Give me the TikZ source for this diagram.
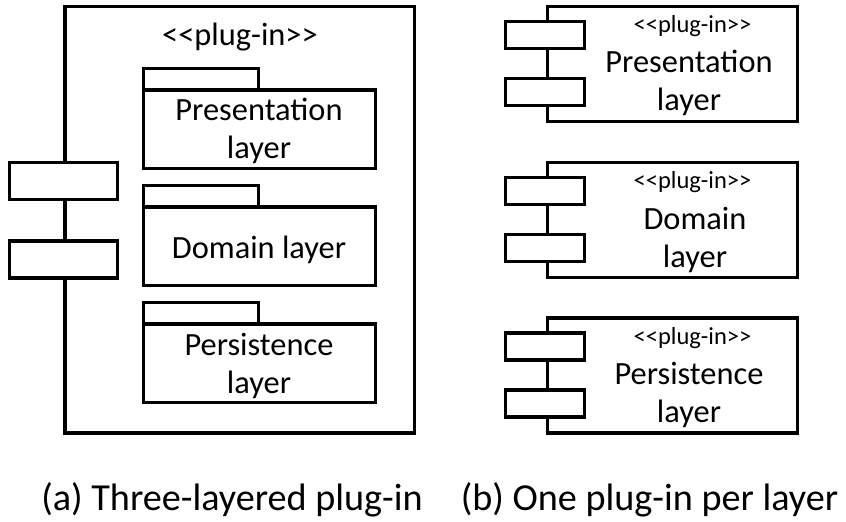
\documentclass[tikz,border=0pt]{standalone}
\usepackage{fontspec}
\setmainfont{Carlito}
\begin{document}
\begin{tikzpicture}[x=1pt,y=-1pt,
  outline/.style={draw=black, line width=3.3pt, line join=miter, inner sep=0pt, outer sep=0pt, rectangle, fill=white},
  port/.style={outline},
  pkgtab/.style={outline},
  pkgbody/.style={outline},
  lbl/.style={font=\fontsize{32.4}{38}\selectfont, align=center, inner sep=0pt, anchor=base},
  stereo/.style={font=\fontsize{32.4}{38}\selectfont, inner sep=0pt, anchor=base},
  smallstereo/.style={font=\fontsize{24.5}{29}\selectfont, inner sep=0pt, anchor=base},
  caption/.style={font=\fontsize{38.2}{44}\selectfont, inner sep=0pt, anchor=base}]
\useasboundingbox (0,0) rectangle (846,522);

% ---------- (a) one plug-in holding three layer packages ----------
\node[outline, minimum width=349.5pt, minimum height=426.5pt] (big) at (239.75,219.75) {};
\node[port, minimum width=108pt, minimum height=37pt] (bigp1) at (63.5,181) {};
\node[port, minimum width=108pt, minimum height=37pt] (bigp2) at (63.5,259.5) {};
\node[stereo] (bigst) at (240,45) {<{}<plug-in>{}>};

% packages: tab + body
\node[pkgtab, minimum width=115pt, minimum height=21.5pt] (ptab) at (201,79.25) {};
\node[pkgbody, minimum width=232pt, minimum height=78.5pt] (pbody) at (259.5,129.25) {};
\node[pkgtab, minimum width=115pt, minimum height=21.5pt] (dtab) at (201,196.25) {};
\node[pkgbody, minimum width=232pt, minimum height=78.5pt] (dbody) at (259.5,246.25) {};
\node[pkgtab, minimum width=115pt, minimum height=21.5pt] (stab) at (201,313.25) {};
\node[pkgbody, minimum width=232pt, minimum height=78.5pt] (sbody) at (259.5,363.25) {};

% two-line labels are placed by the baseline of their last line
\node[lbl] (plbl) at (259,158) {Presentation\\layer};
\node[lbl] (dlbl) at (259,258) {Domain layer};
\node[lbl] (slbl) at (259,393) {Persistence\\layer};

% ---------- (b) one plug-in component per layer ----------
\foreach \nm/\cy in {c1/64, c2/220, c3/375.5} {
  \node[outline, minimum width=250pt, minimum height=115pt] (\nm) at (672.5,\cy) {};
  \node[port, minimum width=79pt, minimum height=27pt] (\nm p1) at (545,\cy-29) {};
  \node[port, minimum width=79pt, minimum height=27pt] (\nm p2) at (545,\cy+28) {};
}
\node[smallstereo] (c1st) at (692.5,32) {<{}<plug-in>{}>};
\node[smallstereo] (c2st) at (692.5,188) {<{}<plug-in>{}>};
\node[smallstereo] (c3st) at (692.5,344) {<{}<plug-in>{}>};
\node[lbl] (c1lbl) at (689,110) {Presentation\\layer};
\node[lbl] (c2lbl) at (695,267) {Domain\\layer};
\node[lbl] (c3lbl) at (689,422) {Persistence\\layer};

% ---------- captions ----------
\node[caption] (capa) at (232,510) {(a) Three-layered plug-in};
\node[caption] (capb) at (649.5,510) {(b) One plug-in per layer};
\end{tikzpicture}
\end{document}
